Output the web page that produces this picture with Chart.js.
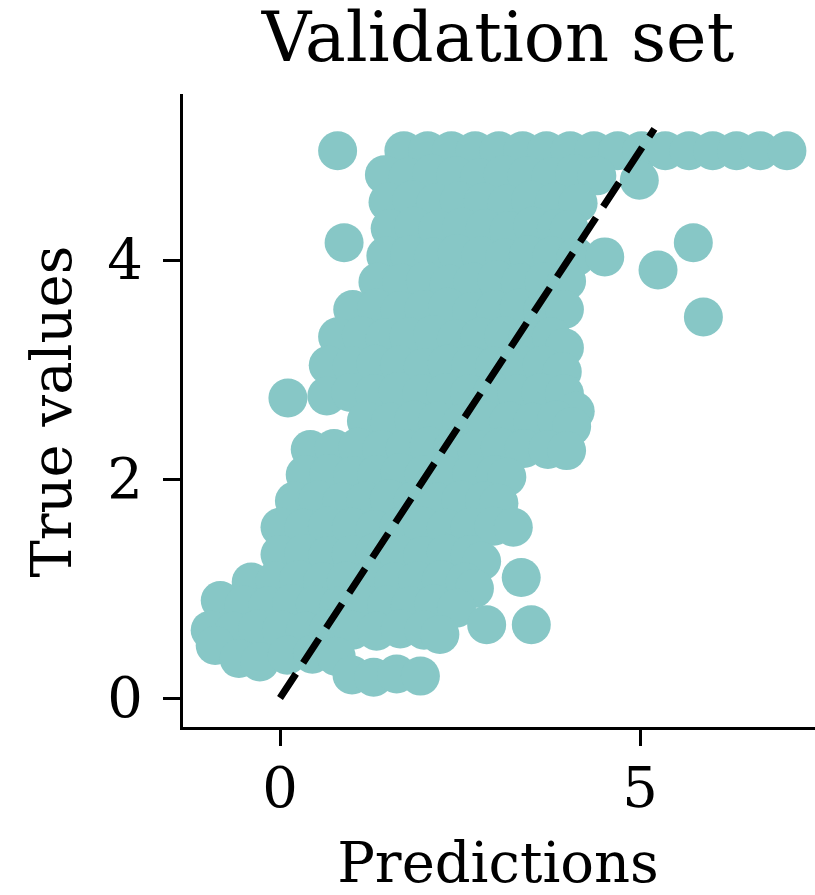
<!DOCTYPE html>
<html>
<head>
<meta charset="utf-8">
<script src="https://cdn.jsdelivr.net/npm/chart.js@4"></script>
<style>
  html, body { margin: 0; padding: 0; background: #fff; overflow: hidden; }
  #wrap { width: 815px; height: 895px; position: relative; }
  canvas { display: block; }
</style>
</head>
<body>
<div id="wrap"><canvas id="chart"></canvas></div>
<script>
// values, one line per horizontal band of the cloud
const predictions = [
  0.80, 1.72, 2.05, 2.38, 2.71, 3.04, 3.37, 3.70, 4.03, 4.36, 4.69, 5.02, 5.35, 5.68, 6.01, 6.34, 6.67, 7.04,
  1.45, 1.78, 2.11, 2.44, 2.77, 3.10, 3.43, 3.76, 4.09, 4.40, 4.99,
  1.50, 1.83, 2.16, 2.49, 2.82, 3.15, 3.48, 3.81, 4.14,
  0.89, 1.53, 1.86, 2.19, 2.52, 2.85, 3.18, 3.51, 3.84, 4.02,
  1.47, 1.80, 2.13, 2.46, 2.79, 3.12, 3.45, 3.78, 4.11, 4.51, 5.25, 5.74,
  1.36, 1.69, 2.02, 2.35, 2.68, 3.01, 3.34, 3.67, 3.98,
  1.01, 1.34, 1.67, 2.00, 2.33, 2.66, 2.99, 3.32, 3.65, 3.95, 5.88,
  0.80, 1.13, 1.46, 1.79, 2.12, 2.45, 2.78, 3.11, 3.44, 3.77, 3.95,
  0.67, 1.00, 1.33, 1.66, 1.99, 2.32, 2.65, 2.98, 3.31, 3.64, 3.92,
  0.11, 0.65, 0.98, 1.31, 1.64, 1.97, 2.30, 2.63, 2.96, 3.29, 3.62, 3.95, 4.10,
  1.20, 1.53, 1.86, 2.19, 2.52, 2.85, 3.18, 3.51, 3.84, 4.05,
  0.42, 0.75, 1.08, 1.41, 1.74, 2.07, 2.40, 2.73, 3.06, 3.39, 3.72, 3.98,
  0.35, 0.68, 1.01, 1.34, 1.67, 2.00, 2.33, 2.66, 2.99, 3.15,
  0.20, 0.53, 0.86, 1.19, 1.52, 1.85, 2.18, 2.51, 2.84, 3.04,
  0.00, 0.33, 0.66, 0.99, 1.32, 1.65, 1.98, 2.31, 2.64, 2.97, 3.24,
  0.00, 0.33, 0.66, 0.99, 1.32, 1.65, 1.98, 2.31, 2.64, 2.80,
  -0.40, -0.07, 0.26, 0.59, 0.92, 1.25, 1.58, 1.91, 2.24, 2.57, 2.70, 3.35,
  -0.83, -0.50, -0.17, 0.16, 0.49, 0.82, 1.15, 1.48, 1.81, 2.14, 2.45,
  -0.97, -0.64, -0.31, 0.02, 0.35, 0.68, 1.01, 1.34, 1.67, 2.00, 2.22, 2.87, 3.49,
  -0.90, -0.57, -0.28, 0.10, 0.45, 0.78,
  1.00, 1.30, 1.62, 1.95
];

const trueValues = [
  5.00, 5.00, 5.00, 5.00, 5.00, 5.00, 5.00, 5.00, 5.00, 5.00, 5.00, 5.00, 5.00, 5.00, 5.00, 5.00, 5.00, 5.00,
  4.78, 4.76, 4.79, 4.77, 4.75, 4.78, 4.77, 4.76, 4.79, 4.77, 4.73,
  4.53, 4.55, 4.52, 4.54, 4.53, 4.51, 4.55, 4.53, 4.52,
  4.16, 4.29, 4.31, 4.28, 4.30, 4.29, 4.27, 4.31, 4.29, 4.28,
  4.04, 4.05, 4.03, 4.06, 4.04, 4.02, 4.05, 4.04, 4.03, 4.03, 3.91, 4.16,
  3.80, 3.79, 3.81, 3.78, 3.80, 3.82, 3.79, 3.80, 3.81,
  3.55, 3.56, 3.54, 3.55, 3.57, 3.53, 3.55, 3.56, 3.54, 3.55, 3.48,
  3.30, 3.31, 3.29, 3.30, 3.32, 3.28, 3.30, 3.31, 3.29, 3.30, 3.20,
  3.04, 3.03, 3.05, 3.04, 3.02, 3.05, 3.04, 3.03, 3.05, 3.04, 2.98,
  2.74, 2.76, 2.79, 2.78, 2.80, 2.78, 2.79, 2.78, 2.80, 2.78, 2.79, 2.78, 2.62,
  2.53, 2.52, 2.54, 2.53, 2.51, 2.54, 2.53, 2.52, 2.54, 2.48,
  2.27, 2.28, 2.29, 2.27, 2.28, 2.30, 2.28, 2.27, 2.29, 2.28, 2.27, 2.26,
  2.04, 2.05, 2.03, 2.04, 2.06, 2.04, 2.03, 2.05, 2.04, 2.02,
  1.80, 1.81, 1.79, 1.80, 1.82, 1.80, 1.79, 1.81, 1.80, 1.78,
  1.56, 1.55, 1.57, 1.56, 1.54, 1.56, 1.57, 1.55, 1.56, 1.57, 1.56,
  1.31, 1.32, 1.30, 1.31, 1.33, 1.31, 1.30, 1.32, 1.31, 1.25,
  1.06, 1.07, 1.08, 1.06, 1.07, 1.08, 1.06, 1.07, 1.08, 1.06, 1.00, 1.10,
  0.89, 0.85, 0.84, 0.86, 0.85, 0.84, 0.86, 0.85, 0.84, 0.86, 0.82,
  0.62, 0.61, 0.63, 0.62, 0.61, 0.63, 0.62, 0.61, 0.63, 0.62, 0.58, 0.67, 0.67,
  0.48, 0.36, 0.33, 0.39, 0.40, 0.38,
  0.21, 0.19, 0.22, 0.20
];

// y = x reference line
const diagonal = [0, 5.2];

const xTicks = [0, 5];
const yTicks = [0, 2, 4];

const serif = "'DejaVu Serif', serif";
const pointColor = '#87c7c6';

const scatterData = predictions.map((p, i) => ({ x: p, y: trueValues[i] }));
const lineData = diagonal.map(v => ({ x: v, y: v }));

new Chart(document.getElementById('chart'), {
  type: 'scatter',
  data: {
    datasets: [
      {
        data: lineData,
        showLine: true,
        borderColor: '#000',
        borderWidth: 7,
        borderDash: [29, 13],
        pointRadius: 0,
        order: 0
      },
      {
        data: scatterData,
        backgroundColor: pointColor,
        borderWidth: 0,
        pointRadius: 19.5,
        order: 1
      }
    ]
  },
  options: {
    responsive: true,
    maintainAspectRatio: false,
    animation: false,
    devicePixelRatio: 1,
    layout: { padding: 0, autoPadding: false },
    plugins: {
      legend: { display: false },
      tooltip: { enabled: false },
      title: {
        display: true,
        text: 'Validation set',
        color: '#000',
        fullSize: false,
        font: { family: serif, size: 68.5, weight: 'normal', lineHeight: 1.2 },
        padding: { top: 2, bottom: 11 }
      }
    },
    scales: {
      x: {
        type: 'linear',
        min: -1.375,
        max: 7.43,
        afterBuildTicks: (scale) => { scale.ticks = xTicks.map(v => ({ value: v })); },
        afterFit: (scale) => { scale.height = 167; },
        grid: { display: true, drawOnChartArea: false, drawTicks: true, tickLength: 18, tickWidth: 3, tickColor: '#000' },
        border: { display: true, color: '#000', width: 3 },
        ticks: { color: '#000', padding: 13, font: { family: serif, size: 56, lineHeight: 1.2 } },
        title: {
          display: true,
          text: 'Predictions',
          color: '#000',
          font: { family: serif, size: 56, lineHeight: 1 },
          padding: 0
        }
      },
      y: {
        type: 'linear',
        min: -0.274,
        max: 5.507,
        afterBuildTicks: (scale) => { scale.ticks = yTicks.map(v => ({ value: v })); },
        afterFit: (scale) => { scale.width = 181; },
        grid: { display: true, drawOnChartArea: false, drawTicks: true, tickLength: 18, tickWidth: 3, tickColor: '#000' },
        border: { display: true, color: '#000', width: 3 },
        ticks: { color: '#000', padding: 20, labelOffset: 4, font: { family: serif, size: 56, lineHeight: 1.2 } },
        title: {
          display: true,
          text: 'True values',
          color: '#000',
          font: { family: serif, size: 56, lineHeight: 1 },
          padding: { top: 28, bottom: 0 }
        }
      }
    }
  }
});
</script>
</body>
</html>
